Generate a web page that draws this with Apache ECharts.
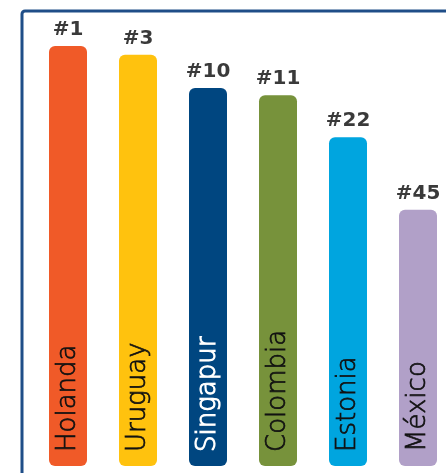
<!DOCTYPE html>
<html><head><meta charset="utf-8">
<script src="https://cdn.jsdelivr.net/npm/echarts@6/dist/echarts.min.js"></script>
<style>html,body{margin:0;padding:0;background:#fff}#c{width:446px;height:473px}</style>
</head><body><div id="c"></div>
<script>
const countries = ['Holanda','Uruguay','Singapur','Colombia','Estonia','México'];
const ranks = ['#1','#3','#10','#11','#22','#45'];
const values = [100, 97.9, 90, 88.3, 78.3, 61];
const colors = ['#f05a28','#ffc20e','#004680','#77923b','#00a5df','#b1a0c8'];
const textColors = ['#111','#111','#fff','#111','#111','#111'];

const chart = echarts.init(document.getElementById('c'));
chart.setOption({
  animation:false,
  graphic:[{type:'rect',shape:{x:22,y:11,width:600,height:600,r:3},style:{fill:'none',stroke:'#1f4e88',lineWidth:3},z:-1}],
  grid:{left:33,top:46,right:0,bottom:7},
  xAxis:{type:'value',min:-0.5,max:5.4,show:false},
  yAxis:{type:'value',min:0,max:100,show:false},
  series:[
    {type:'bar',barWidth:38,
     data:values.map((v,i)=>({value:[i,v],itemStyle:{color:colors[i]},
       label:{color:textColors[i],textBorderColor:textColors[i],textBorderWidth:i===2?1.1:0.7}})),
     itemStyle:{borderRadius:6},
     label:{show:true,position:'insideBottom',rotate:90,align:'left',verticalAlign:'middle',distance:14,
       formatter:p=>countries[p.dataIndex],fontFamily:'DejaVu Sans',fontSize:26,fontWeight:300}
    },
    {type:'bar',barWidth:38,barGap:'-100%',data:values.map((v,i)=>[i,v]),itemStyle:{color:'transparent'},
     label:{show:true,position:'top',distance:6,formatter:p=>ranks[p.dataIndex],
       fontFamily:'DejaVu Sans',fontWeight:'bold',fontSize:20,color:'#3a3a3a'}, z:3}
  ]
});
</script></body></html>
